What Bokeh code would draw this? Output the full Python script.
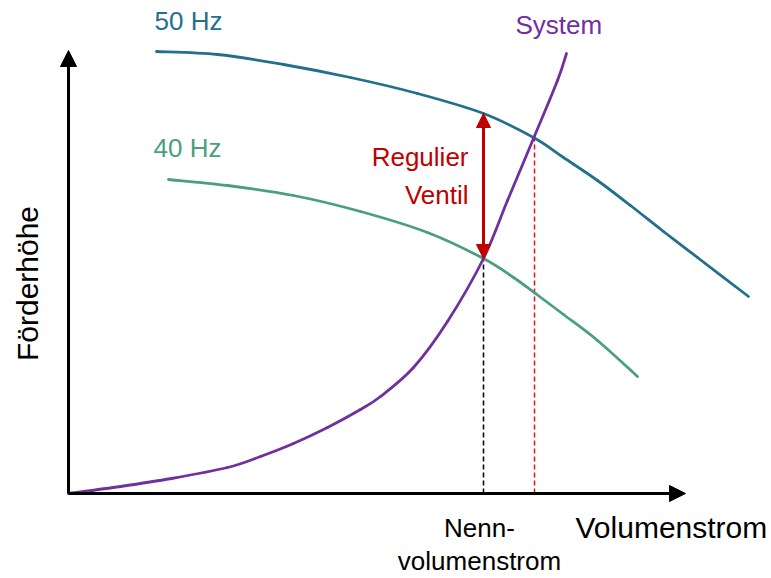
from bokeh.plotting import figure
from bokeh.models import Range1d, Arrow, NormalHead, Label
from bokeh.embed import file_html
from bokeh.resources import INLINE

# Pump curves (Volumenstrom Q vs. Förderhöhe H, arbitrary units)
q_50 = [88, 149, 215, 282, 349, 415, 465, 495, 529, 562, 595, 629, 680]
h_50 = [442, 439, 429, 416, 400, 380, 356, 336, 313, 288, 262, 236, 197]

q_40 = [100, 159, 225, 292, 359, 415, 445, 467, 495, 529, 569]
h_40 = [314, 308, 298, 282, 261, 235, 216, 200, 179, 153, 117]

# System characteristic
q_sys = [0, 52, 103, 159, 192, 225, 259, 292, 312, 345, 379, 415, 439, 465, 489, 498]
h_sys = [0, 7, 15, 26, 37, 50, 66, 84, 97, 126, 172, 235, 293, 355, 413, 440]

# Operating points
q_nenn = 415          # Nennvolumenstrom (40 Hz meets system)
h_nenn_40 = 235
h_nenn_50 = 380
q_50_op = 466         # 50 Hz meets system
h_50_op = 356

q_axis_end = 617
h_axis_end = 443

C50 = "#23708d"
C40 = "#4c9e82"
CSYS = "#7030a0"
CRED = "#c00000"
FONT = "Liberation Sans"

p = figure(width=771, height=578, x_range=Range1d(-68, 703), y_range=Range1d(-85, 493),
           output_backend="svg", toolbar_location=None,
           x_axis_location=None, y_axis_location=None, min_border=0)
p.outline_line_color = None
p.grid.grid_line_color = None
p.background_fill_color = "white"
p.border_fill_color = "white"


def smooth_curve(xs, ys, color):
    """Draw a curve through the given points as Catmull-Rom Bezier segments."""
    n = len(xs)
    x0, y0, x1, y1, cx0, cy0, cx1, cy1 = [], [], [], [], [], [], [], []
    for i in range(n - 1):
        a = max(i - 1, 0)
        b = min(i + 2, n - 1)
        x0.append(xs[i]); y0.append(ys[i])
        x1.append(xs[i + 1]); y1.append(ys[i + 1])
        cx0.append(xs[i] + (xs[i + 1] - xs[a]) / 6.0)
        cy0.append(ys[i] + (ys[i + 1] - ys[a]) / 6.0)
        cx1.append(xs[i + 1] - (xs[b] - xs[i]) / 6.0)
        cy1.append(ys[i + 1] - (ys[b] - ys[i]) / 6.0)
    p.bezier(x0=x0, y0=y0, x1=x1, y1=y1, cx0=cx0, cy0=cy0, cx1=cx1, cy1=cy1,
             line_color=color, line_width=2.8, line_cap="round")


# Axes with arrow heads
p.add_layout(Arrow(x_start=0, y_start=0, x_end=q_axis_end, y_end=0, line_width=3, line_color="black",
                   end=NormalHead(size=16, fill_color="black", line_color="black", line_width=1)))
p.add_layout(Arrow(x_start=0, y_start=0, x_end=0, y_end=h_axis_end, line_width=3, line_color="black",
                   end=NormalHead(size=16, fill_color="black", line_color="black", line_width=1)))

# Helper lines down to the flow axis
p.line([q_nenn, q_nenn], [0, h_nenn_40], line_color="black", line_width=1.5, line_dash="5 3")
p.line([q_50_op, q_50_op], [0, h_50_op], line_color="#e0101a", line_width=1.5, line_dash="5 3")

# Curves
smooth_curve(q_50, h_50, C50)
smooth_curve(q_40, h_40, C40)
smooth_curve(q_sys, h_sys, CSYS)

# Throttle valve difference
p.add_layout(Arrow(x_start=q_nenn, y_start=h_nenn_40, x_end=q_nenn, y_end=h_nenn_50,
                   line_width=3, line_color=CRED,
                   start=NormalHead(size=14, fill_color=CRED, line_color=CRED, line_width=1),
                   end=NormalHead(size=14, fill_color=CRED, line_color=CRED, line_width=1)))


def label(x, y, text, color="black", size="26px", align="left", angle=0.0):
    p.add_layout(Label(x=x, y=y, text=text, text_color=color, text_font=FONT,
                       text_font_size=size, text_align=align, text_baseline="alphabetic",
                       angle=angle))


label(86, 473, "50 Hz", C50)
label(85, 346, "40 Hz", C40)
label(447, 469, "System", CSYS)
label(400, 337, "Regulier", CRED, align="right")
label(400, 299, "Ventil", CRED, align="right")
label(411, -34, "Nenn-", align="center")
label(411, -67, "volumenstrom", align="center")
label(507, -34, "Volumenstrom", size="30px")
label(-41, 210, "Förderhöhe", size="30px", align="center", angle=1.5708)

open("out.html", "w").write(file_html(p, INLINE))
